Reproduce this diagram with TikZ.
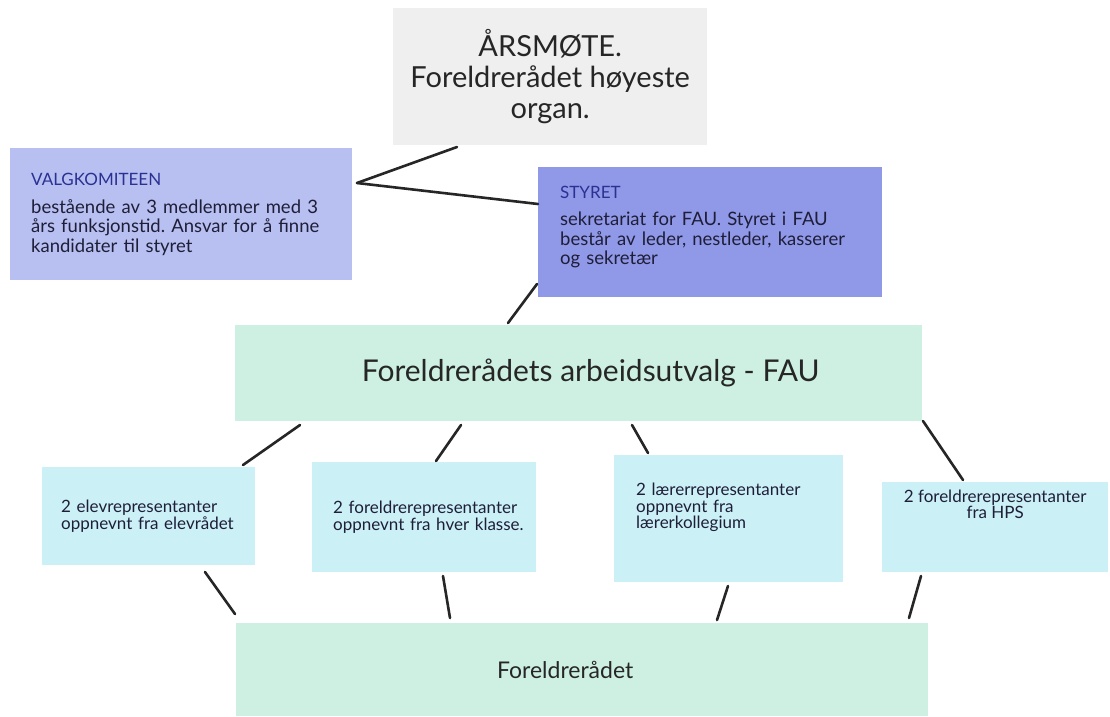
\documentclass[tikz,border=0pt]{standalone}
\usepackage{fontspec}
\setmainfont{Lato}
\frenchspacing
\definecolor{grayfill}{HTML}{EFEFEF}
\definecolor{valgfill}{HTML}{B8BFF1}
\definecolor{styrfill}{HTML}{9098E8}
\definecolor{mintfill}{HTML}{CDF0E2}
\definecolor{bluefill}{HTML}{CBF0F6}
\definecolor{headblue}{HTML}{2B3193}
\definecolor{bodytext}{HTML}{1E1E38}
\begin{document}
\begin{tikzpicture}[x=1pt,y=-1pt,
  box/.style={rectangle, anchor=north west, inner sep=0pt, draw=none},
  conn/.style={line width=2.6pt, color=black!85, line cap=round},
  bigtxt/.style={font=\fontsize{29}{31}\selectfont, text=black!85, align=center},
  midtxt/.style={font=\fontsize{18.5}{19.5}\selectfont, text=bodytext},
  smalltxt/.style={font=\fontsize{17}{16.5}\selectfont, text=bodytext}
]
\useasboundingbox[fill=white] (0,0) rectangle (1110,716);

% boxes
\node[box, fill=grayfill, minimum width=314pt, minimum height=137pt, bigtxt] (arsmote) at (393,8)
  {ÅRSMØTE.\\Foreldrerådet høyeste\\organ.};

\node[box, fill=valgfill, minimum width=342pt, minimum height=132pt, midtxt,
      text width=300pt, align=left] (valg) at (10,148)
  {{\color{headblue}\fontsize{17}{17}\selectfont VALGKOMITEEN}\\[8pt]
   \mbox{bestående av 3 medlemmer med 3}\\\mbox{års funksjonstid. Ansvar for å finne}\\kandidater til styret};

\node[box, fill=styrfill, minimum width=344pt, minimum height=130pt, midtxt,
      text width=300pt, align=left] (styret) at (538,167)
  {{\color{headblue}\fontsize{17}{17}\selectfont STYRET}\\[8pt]
   \mbox{sekretariat for FAU. Styret i FAU}\\\mbox{består av leder, nestleder, kasserer}\\og sekretær\\[-6pt]\mbox{}};

\node[box, fill=mintfill, minimum width=687pt, minimum height=96pt,
      font=\fontsize{30}{32}\selectfont, text=black!85] (fau) at (235,325)
  {\hspace*{24pt}Foreldrerådets arbeidsutvalg - FAU};

\node[box, fill=bluefill, minimum width=213pt, minimum height=98pt, smalltxt,
      text width=175pt, align=left] (b1) at (42,467)
  {\mbox{2 elevrepresentanter}\\\mbox{oppnevnt fra elevrådet}};

\node[box, fill=bluefill, minimum width=224pt, minimum height=110pt, smalltxt,
      text width=182pt, align=left] (b2) at (312,462)
  {\mbox{2 foreldrerepresentanter}\\\mbox{oppnevnt fra hver klasse.}};

\node[box, fill=bluefill, minimum width=229pt, minimum height=127pt, smalltxt,
      text width=185pt, align=left] (b3) at (614,455)
  {\mbox{2 lærerrepresentanter}\\oppnevnt fra\\lærerkollegium\\[9pt]\mbox{}};

\node[box, fill=bluefill, minimum width=226pt, minimum height=90pt, smalltxt,
      align=center] (b4) at (882,482)
  {2 foreldrerepresentanter\\fra HPS\\[29pt]\mbox{}};

\node[box, fill=mintfill, minimum width=692pt, minimum height=93pt,
      font=\fontsize{23}{27}\selectfont, text=black!85] (forel) at (236,623)
  {Foreldrerådet\hspace*{34pt}};

% connector end points
\coordinate (vA) at (357,183);
\coordinate (aA) at (457,147);
\coordinate (sA) at (538,204);
\coordinate (sB) at (537,284);
\coordinate (fA) at (508,323);
\coordinate (f1) at (300,425);
\coordinate (t1) at (243,465);
\coordinate (f2) at (461,425);
\coordinate (t2) at (436,461);
\coordinate (f3) at (632,425);
\coordinate (t3) at (648,453);
\coordinate (f4) at (923,421);
\coordinate (t4) at (963,480);
\coordinate (u1) at (205,572);
\coordinate (d1) at (235,614);
\coordinate (u2) at (443,576);
\coordinate (d2) at (450,618);
\coordinate (u3) at (728,586);
\coordinate (d3) at (717,620);
\coordinate (u4) at (921,576);
\coordinate (d4) at (909,618);

% connectors
\draw[conn] (vA) -- (aA);
\draw[conn] (vA) -- (sA);
\draw[conn] (sB) -- (fA);
\draw[conn] (f1) -- (t1);
\draw[conn] (f2) -- (t2);
\draw[conn] (f3) -- (t3);
\draw[conn] (f4) -- (t4);
\draw[conn] (u1) -- (d1);
\draw[conn] (u2) -- (d2);
\draw[conn] (u3) -- (d3);
\draw[conn] (u4) -- (d4);
\end{tikzpicture}
\end{document}
